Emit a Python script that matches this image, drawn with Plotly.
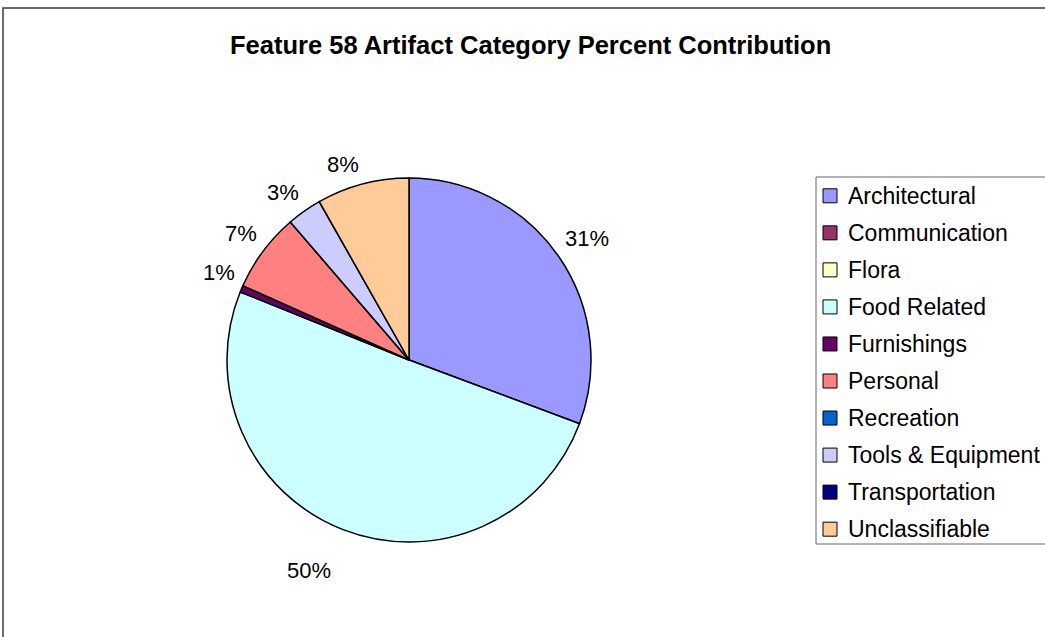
import math
import plotly.graph_objects as go

# Artifact categories and their percent share of the Feature 58 assemblage
categories = [
    "Architectural", "Communication", "Flora", "Food Related", "Furnishings",
    "Personal", "Recreation", "Tools & Equipment", "Transportation", "Unclassifiable",
]
percent_share = [30.7, 0, 0, 50.4, 0.6, 7.0, 0, 3.1, 0, 8.2]
slice_colors = [
    "#9999FF", "#993366", "#FFFFCC", "#CCFFFF", "#660066",
    "#FF8080", "#0066CC", "#CCCCFF", "#000080", "#FFCC99",
]
chart_title = "Feature 58 Artifact Category Percent Contribution"

W, H = 1045, 637
FONT = "Liberation Sans, Arial, sans-serif"

# pie centre and radius in pixels
CX, CY, R = 409, 360, 182
GAP_UPPER, GAP_LOWER = 5, 28


def fx(px):
    return px / W


def fy(py):
    return 1 - py / H


fig = go.Figure(
    go.Pie(
        labels=categories,
        values=percent_share,
        sort=False,
        direction="clockwise",
        rotation=0,
        marker=dict(colors=slice_colors, line=dict(color="black", width=1.5)),
        textinfo="none",
        domain=dict(x=[fx(CX - R), fx(CX + R)], y=[fy(CY + R), fy(CY - R)]),
        showlegend=False,
        hoverinfo="label+percent",
    )
)

shapes = []
annotations = []

# percent labels sitting just outside each non-empty slice (clockwise from 12 o'clock)
total = sum(percent_share)
cum = 0.0
for v in percent_share:
    if v > 0:
        mid = math.radians((cum + v / 2) / total * 360)
        sx, cy_ = math.sin(mid), math.cos(mid)
        gap = GAP_UPPER if cy_ > 0 else GAP_LOWER
        ax = CX + (R + gap) * sx
        ay = CY - (R + gap) * cy_
        annotations.append(dict(
            xref="paper", yref="paper", x=fx(ax), y=fy(ay),
            xanchor="left" if sx > 0 else "right",
            yanchor="bottom" if cy_ > 0 else "top",
            showarrow=False, text=f"{round(v / total * 100)}%",
            font=dict(family=FONT, size=22, color="black"),
        ))
    cum += v

# outer chart frame
shapes.append(dict(
    type="rect", xref="paper", yref="paper",
    x0=fx(3), x1=fx(1100), y0=fy(700), y1=fy(8),
    line=dict(color="#3a3a3a", width=1.5), fillcolor="rgba(0,0,0,0)", layer="below",
))

# legend box
LEG_LEFT, LEG_TOP, LEG_BOTTOM = 816, 177, 544
shapes.append(dict(
    type="rect", xref="paper", yref="paper",
    x0=fx(LEG_LEFT), x1=fx(1100), y0=fy(LEG_BOTTOM), y1=fy(LEG_TOP),
    line=dict(color="#666666", width=1), fillcolor="white", layer="below",
))

ROW0, ROW_STEP, SQ = 195.8, 37.04, 14
for i, (name, col) in enumerate(zip(categories, slice_colors)):
    yc = ROW0 + ROW_STEP * i
    shapes.append(dict(
        type="rect", xref="paper", yref="paper",
        x0=fx(823), x1=fx(823 + SQ), y0=fy(yc + SQ / 2), y1=fy(yc - SQ / 2),
        line=dict(color="black", width=1), fillcolor=col,
    ))
    annotations.append(dict(
        xref="paper", yref="paper", x=fx(846), y=fy(yc),
        xanchor="left", yanchor="middle", showarrow=False, text=name,
        font=dict(family=FONT, size=23, color="black"),
    ))

# chart title
annotations.append(dict(
    xref="paper", yref="paper", x=fx(530), y=fy(45.5),
    xanchor="center", yanchor="middle", showarrow=False,
    text="<b>" + chart_title + "</b>",
    font=dict(family=FONT, size=25.5, color="black"),
))

fig.update_layout(
    width=W, height=H,
    margin=dict(l=0, r=0, t=0, b=0),
    paper_bgcolor="white", plot_bgcolor="white",
    shapes=shapes, annotations=annotations,
    showlegend=False,
)

fig.write_html("out.html")
